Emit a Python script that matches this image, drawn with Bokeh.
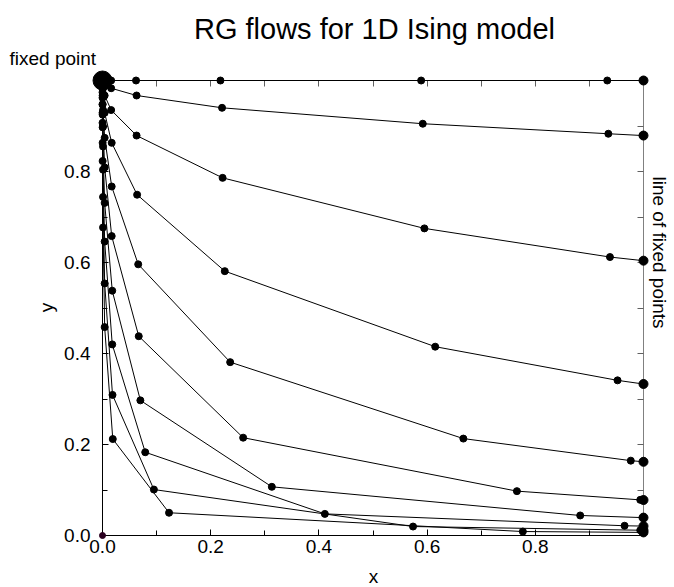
import math
from bokeh.plotting import figure
from bokeh.models import Range1d, LinearAxis, FixedTicker, PrintfTickFormatter
from bokeh.core.properties import value
from bokeh.embed import file_html
from bokeh.resources import INLINE

# ---- data ----
fixed_x = [0.0]
fixed_y = [1.0]
origin_x = [0.0]
origin_y = [0.0]

a_x = [0.00025, 0.001, 0.004, 0.016, 0.062, 0.218, 0.589, 0.933, 0.9997, 1.0]
a_y = [1.0, 1.0, 1.0, 1.0, 1.0, 1.0, 1.0, 1.0, 1.0, 1.0]

b_x = [0.00025, 0.001, 0.004, 0.016, 0.063, 0.221, 0.592, 0.935, 0.999, 1.0]
b_y = [0.998, 0.996, 0.992, 0.983, 0.967, 0.940, 0.905, 0.883, 0.879, 0.879]

c_x = [0.00006, 0.00025, 0.001, 0.004, 0.016, 0.063, 0.222, 0.595, 0.938, 0.9995, 1.0]
c_y = [0.996, 0.9915, 0.983, 0.967, 0.935, 0.879, 0.786, 0.675, 0.612, 0.604, 0.604]

d_x = [0.00006, 0.00025, 0.001, 0.004, 0.017, 0.064, 0.226, 0.615, 0.952, 0.9995, 1.0]
d_y = [0.991, 0.982, 0.964, 0.929, 0.863, 0.749, 0.581, 0.415, 0.341, 0.333, 0.333]

e_x = [0.00006, 0.00025, 0.001, 0.004, 0.017, 0.066, 0.236, 0.667, 0.9765, 0.9999, 1.0]
e_y = [0.983, 0.967, 0.935, 0.874, 0.767, 0.596, 0.381, 0.213, 0.1645, 0.162, 0.162]

f_x = [0.00006, 0.00025, 0.001, 0.004, 0.017, 0.067, 0.260, 0.766, 0.994, 1.0]
f_y = [0.974, 0.948, 0.899, 0.809, 0.658, 0.438, 0.215, 0.0975, 0.0783, 0.078]

g_x = [0.00006, 0.00025, 0.001, 0.004, 0.018, 0.070, 0.313, 0.883, 0.9993, 1.0]
g_y = [0.962, 0.925, 0.855, 0.731, 0.538, 0.297, 0.107, 0.044, 0.0393, 0.0393]

h_x = [0.00006, 0.00025, 0.001, 0.004, 0.018, 0.079, 0.411, 0.965, 1.0]
h_y = [0.947, 0.897, 0.804, 0.646, 0.420, 0.183, 0.0475, 0.0214, 0.0207]

i_x = [0.00006, 0.00025, 0.001, 0.004, 0.0185, 0.095, 0.574, 0.994, 1.0]
i_y = [0.929, 0.863, 0.744, 0.554, 0.309, 0.101, 0.0197, 0.0116, 0.0115]

j_x = [0.00006, 0.00025, 0.001, 0.004, 0.019, 0.123, 0.777, 0.9995, 1.0]
j_y = [0.907, 0.823, 0.677, 0.458, 0.212, 0.050, 0.0087, 0.0068, 0.0068]

flows = [(a_x, a_y), (b_x, b_y), (c_x, c_y), (d_x, d_y), (e_x, e_y),
         (f_x, f_y), (g_x, g_y), (h_x, h_y), (i_x, i_y), (j_x, j_y)]

major_ticks = [0.0, 0.2, 0.4, 0.6, 0.8]
minor_ticks = [0.1, 0.3, 0.5, 0.7, 0.9]
all_ticks = [0.1, 0.2, 0.3, 0.4, 0.5, 0.6, 0.7, 0.8, 0.9]

FONT = "Liberation Sans"

p = figure(width=674, height=587, output_backend="svg", toolbar_location=None,
           x_range=Range1d(0, 1), y_range=Range1d(0, 1),
           x_axis_location=None, y_axis_location=None,
           min_border_left=102, min_border_right=31,
           min_border_top=80, min_border_bottom=52)
p.grid.grid_line_color = None
p.outline_line_color = None
p.background_fill_color = "white"
p.border_fill_color = "white"


def labelled_axis(standoff):
    ax = LinearAxis(ticker=FixedTicker(ticks=major_ticks, minor_ticks=minor_ticks),
                    formatter=PrintfTickFormatter(format="%.1f"))
    ax.axis_line_color = "black"
    ax.major_tick_line_color = "black"
    ax.minor_tick_line_color = "black"
    ax.major_tick_in = 6
    ax.major_tick_out = 0
    ax.minor_tick_in = 5
    ax.minor_tick_out = 0
    ax.major_label_standoff = standoff
    ax.major_label_text_font = FONT
    ax.major_label_text_font_size = "19px"
    ax.major_label_text_color = "black"
    return ax


def plain_axis():
    ax = LinearAxis(ticker=FixedTicker(ticks=[], minor_ticks=all_ticks))
    ax.axis_line_color = "#808080"
    ax.minor_tick_line_color = "#606060"
    ax.minor_tick_in = 6
    ax.minor_tick_out = 0
    ax.major_tick_line_color = None
    return ax


p.add_layout(labelled_axis(4), "below")
p.add_layout(labelled_axis(12), "left")
p.add_layout(plain_axis(), "above")
p.add_layout(plain_axis(), "right")

for fx, fy in flows:
    r = p.line(fx, fy, line_color="black", line_width=1)
    r.level = "overlay"
for fx, fy in flows:
    r = p.scatter(fx[:-1], fy[:-1], marker="circle", size=7, color="black")
    r.level = "overlay"
    r2 = p.scatter(fx[-1:], fy[-1:], marker="circle", size=9, color="black")
    r2.level = "overlay"

rf = p.scatter(fixed_x, fixed_y, marker="circle", size=19, color="black")
rf.level = "overlay"
ro = p.scatter(origin_x, origin_y, marker="circle", size=6, color="#2a0020")
ro.level = "overlay"

# ---- texts: anchored at the frame's lower-left corner, offset in pixels ----
texts = [
    dict(dx=272, dy=-507, text="RG flows for 1D Ising model", size="29px",
         align="center", baseline="alphabetic", angle=0.0),
    dict(dx=-93, dy=-477, text="fixed point", size="19px",
         align="left", baseline="alphabetic", angle=0.0),
    dict(dx=557, dy=-283, text="line of fixed points", size="19px",
         align="center", baseline="alphabetic", angle=-math.pi / 2),
    dict(dx=271, dy=41, text="x", size="19px",
         align="center", baseline="middle", angle=0.0),
    dict(dx=-56, dy=-228, text="y", size="19px",
         align="center", baseline="middle", angle=math.pi / 2),
]
for t in texts:
    tr = p.text(x=[0.0], y=[0.0], text=[t["text"]], x_offset=t["dx"], y_offset=t["dy"],
                angle=t["angle"], text_font=value(FONT), text_font_size=value(t["size"]),
                text_align=t["align"], text_baseline=t["baseline"], text_color="black")
    tr.level = "overlay"

open("out.html", "w").write(file_html(p, INLINE))
